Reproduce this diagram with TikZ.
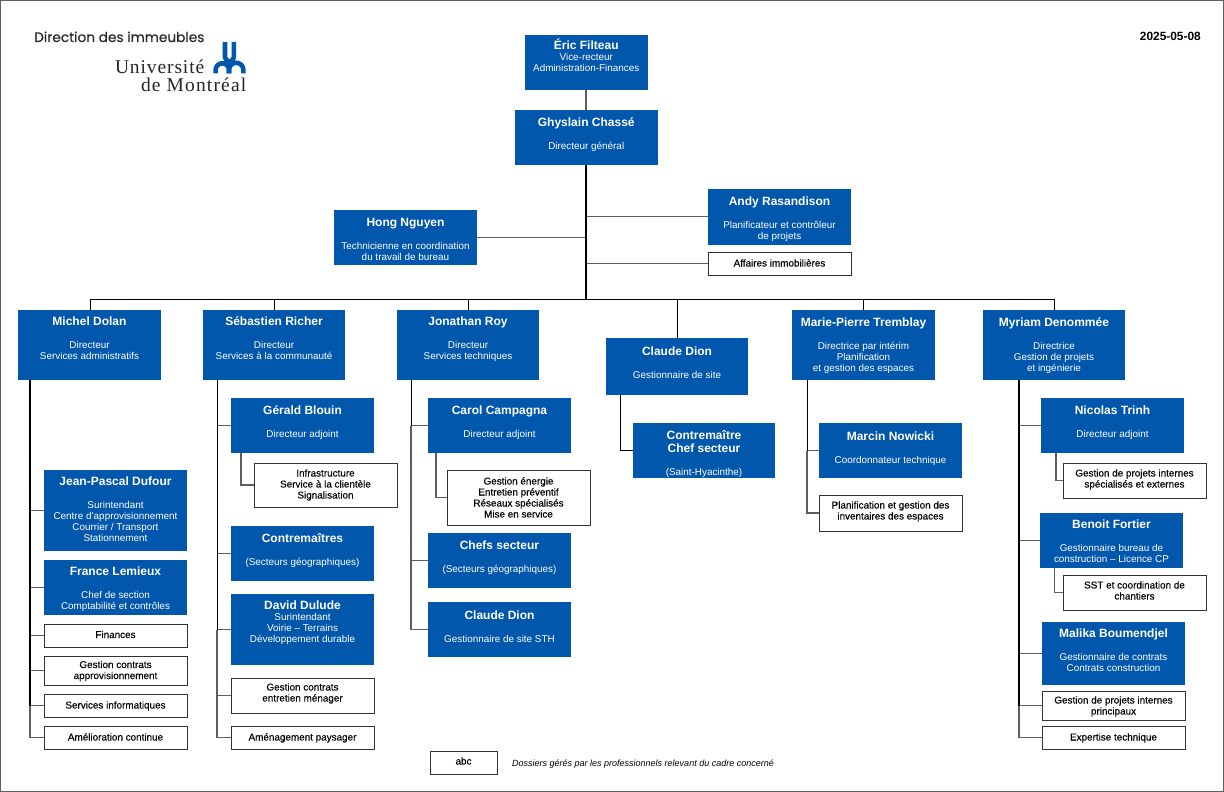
\documentclass[tikz,border=0pt]{standalone}
\usepackage{fontspec}
\setmainfont{Liberation Sans}
\newfontfamily\fb[FakeBold=0.3]{Liberation Sans}
\newfontfamily\pop[FakeBold=0.25]{Poppins}
\newfontfamily\lsera[LetterSpace=4.6]{Liberation Serif}
\newfontfamily\lserb[LetterSpace=6]{Liberation Serif}
\definecolor{umblue}{HTML}{0057AB}
\definecolor{linegray}{HTML}{5E5E5E}
\newcommand\nm[1]{{\fontsize{12}{11}\selectfont\bfseries #1}}
% \bx{name}{x0}{y0}{x1}{y1}{style}{first baseline}{text}
\newcommand\bx[8]{%
  \pgfmathsetmacro\bw{#4-#2}\pgfmathsetmacro\bh{#5-#3}\pgfmathsetmacro\bo{#7-#3}%
  \node[#6,minimum width=\bw pt,minimum height=\bh pt] (#1) at ({(#2+#4)/2},{(#3+#5)/2})
    {\parbox[c][\bh pt][t]{\bw pt}{\centering\rule{0pt}{\bo pt}#8}};}
\tikzset{
  bluebox/.style={fill=umblue,text=white,inner sep=0pt,outer sep=0pt,font=\fontsize{9.9}{11}\selectfont},
  whitebox/.style={draw=black!80,line width=.9pt,fill=white,text=black,inner sep=0pt,outer sep=0pt,font=\fontsize{9.9}{11}\selectfont\fb},
  thin link/.style={draw=linegray,line width=1.1pt},
  bus link/.style={draw=black,line width=1pt},
  trunk link/.style={draw=black,line width=1.8pt},
  logo stroke/.style={draw=umblue,line width=4.6pt},
}
\begin{document}
\begin{tikzpicture}[x=1pt,y=-1pt]
\useasboundingbox (0,0) rectangle (1224,792);
\draw[draw=linegray,line width=1.4pt] (.7,.7) rectangle (1223.3,791.3);

% header
\node[inner sep=0pt,anchor=base west,font=\fontsize{13.7}{14}\selectfont\pop,text=black!85] (title) at (34,42) {Direction des immeubles};
\node[inner sep=0pt,anchor=base east,font=\fontsize{19.5}{20}\selectfont\lsera,text=black!85] (um1) at (204.5,74) {Université};
\node[inner sep=0pt,anchor=base east,font=\fontsize{19.5}{20}\selectfont\lserb,text=black!85] (um2) at (246.5,92) {de Montréal};
\node[inner sep=0pt,anchor=base east,font=\fontsize{11.9}{12}\selectfont\bfseries] (date) at (1201,41) {2025-05-08};
\draw[logo stroke] (225,42) -- (225,57) arc[start angle=180,end angle=0,radius=4.45] -- (233.9,42);
\draw[logo stroke] (215.6,73.5) -- (215.6,70) arc[start angle=180,end angle=360,radius=6.7] -- (229,73.5);
\draw[logo stroke] (229,73.5) -- (229,70) arc[start angle=180,end angle=360,radius=7.2] -- (243.4,73.5);

% top
\bx{eric}{524.5}{35}{648}{90}{bluebox}{50}{\nm{Éric Filteau}\\[-1pt]Vice-recteur\\Administration-Finances}
\bx{ghys}{515}{110}{657.5}{165}{bluebox}{126}{\nm{Ghyslain Chassé}\\[12pt]Directeur général}
\bx{andy}{708}{189}{851}{244.5}{bluebox}{205}{\nm{Andy Rasandison}\\[12pt]Planificateur et contrôleur\\de projets}
\bx{hong}{334}{210}{477}{265}{bluebox}{226}{\nm{Hong Nguyen}\\[12pt]Technicienne en coordination\\du travail de bureau}
\bx{aff}{708}{252}{851}{275}{whitebox}{266.5}{Affaires immobilières}

% row heads
\bx{michel}{18}{310}{161}{380}{bluebox}{325}{\nm{Michel Dolan}\\[12pt]Directeur\\Services administratifs}
\bx{seb}{203}{310}{345}{380}{bluebox}{325}{\nm{Sébastien Richer}\\[12pt]Directeur\\Services à la communauté}
\bx{jon}{397}{310}{539}{380}{bluebox}{325}{\nm{Jonathan Roy}\\[12pt]Directeur\\Services techniques}
\bx{dion}{606}{338}{748}{395}{bluebox}{355}{\nm{Claude Dion}\\[12pt]Gestionnaire de site}
\bx{marie}{792}{310}{935}{380}{bluebox}{326}{\nm{Marie-Pierre Tremblay}\\[12pt]Directrice par intérim\\Planification\\et gestion des espaces}
\bx{myr}{983}{310}{1125}{380}{bluebox}{326}{\nm{Myriam Denommée}\\[12pt]Directrice\\Gestion de projets\\et ingénierie}

% column 1
\bx{jp}{44}{470}{187}{551}{bluebox}{485}{\nm{Jean-Pascal Dufour}\\[12pt]Surintendant\\Centre d’approvisionnement\\Courrier / Transport\\Stationnement}
\bx{fr}{44}{560}{187}{615}{bluebox}{575}{\nm{France Lemieux}\\[12pt]Chef de section\\Comptabilité et contrôles}
\bx{fin}{44}{624}{187}{647}{whitebox}{638}{Finances}
\bx{gca}{44}{656}{187}{685}{whitebox}{668}{Gestion contrats\\approvisionnement}
\bx{si}{44}{694}{187}{717}{whitebox}{708.5}{Services informatiques}
\bx{ac}{44}{726}{187}{749}{whitebox}{740.5}{Amélioration continue}

% column 2
\bx{ger}{231}{398}{374}{453}{bluebox}{414}{\nm{Gérald Blouin}\\[12pt]Directeur adjoint}
\bx{inf}{254}{463}{397}{507}{whitebox}{476.5}{Infrastructure\\Service à la clientèle\\Signalisation}
\bx{con}{231}{526}{374}{581}{bluebox}{542}{\nm{Contremaîtres}\\[12pt](Secteurs géographiques)}
\bx{dav}{231}{594}{374}{665}{bluebox}{609}{\nm{David Dulude}\\Surintendant\\Voirie – Terrains\\Développement durable}
\bx{gce}{231}{678}{374}{713}{whitebox}{690.5}{Gestion contrats\\entretien ménager}
\bx{ame}{231}{726}{374}{749}{whitebox}{740.5}{Aménagement paysager}

% column 3
\bx{car}{428}{398}{571}{453}{bluebox}{414}{\nm{Carol Campagna}\\[12pt]Directeur adjoint}
\bx{ene}{447}{470}{590}{525}{whitebox}{484.5}{Gestion énergie\\Entretien préventif\\Réseaux spécialisés\\Mise en service}
\bx{che}{428}{533}{571}{588}{bluebox}{549}{\nm{Chefs secteur}\\[12pt](Secteurs géographiques)}
\bx{sth}{428}{602}{571}{657}{bluebox}{619}{\nm{Claude Dion}\\[12pt]Gestionnaire de site STH}

% column 4
\bx{csh}{633}{423}{775}{478}{bluebox}{439}{\nm{Contremaître}\\[2.5pt]\nm{Chef secteur}\\[12pt](Saint-Hyacinthe)}

% column 5
\bx{mar}{819}{423}{962}{478}{bluebox}{440}{\nm{Marcin Nowicki}\\[12pt]Coordonnateur technique}
\bx{pla}{819}{495}{962}{531}{whitebox}{508.5}{Planification et gestion des\\inventaires des espaces}

% column 6
\bx{nic}{1041}{398}{1184}{453}{bluebox}{414}{\nm{Nicolas Trinh}\\[12pt]Directeur adjoint}
\bx{gpi}{1063}{463}{1206}{498}{whitebox}{476.5}{Gestion de projets internes\\spécialisés et externes}
\bx{ben}{1040}{513}{1183}{568}{bluebox}{528}{\nm{Benoit Fortier}\\[12pt]Gestionnaire bureau de\\construction – Licence CP}
\bx{sst}{1063}{575}{1206}{610}{whitebox}{588.5}{SST et coordination de\\chantiers}
\bx{mal}{1042}{622}{1185}{685}{bluebox}{637}{\nm{Malika Boumendjel}\\[12pt]Gestionnaire de contrats\\Contrats construction}
\bx{gpp}{1042}{691}{1185}{720}{whitebox}{703.5}{Gestion de projets internes\\principaux}
\bx{exp}{1042}{726}{1185}{749}{whitebox}{740.5}{Expertise technique}

% legend
\bx{abc}{430}{751}{497}{774}{whitebox}{764.5}{abc}
\node[inner sep=0pt,anchor=base west,font=\fontsize{9}{10}\selectfont\itshape] (leg) at (512,766) {Dossiers gérés par les professionnels relevant du cadre concerné};

% coordinates of trunks
\coordinate (tc) at (586,165);
\coordinate (busy) at (586,299);
\coordinate (t1) at (30,380);
\coordinate (t2) at (217,380);
\coordinate (t3) at (411,380);
\coordinate (t4) at (620,395);
\coordinate (t5) at (807,380);
\coordinate (t6) at (1019,380);
\coordinate (s2) at (241,453);
\coordinate (s3) at (436,453);
\coordinate (s6a) at (1056,453);
\coordinate (s6b) at (1054.5,568);
\coordinate (d1) at (90,310);
\coordinate (d2) at (274,310);
\coordinate (d3) at (468,310);
\coordinate (d4) at (677,338);
\coordinate (d5) at (863,310);
\coordinate (d6) at (1054,310);

\draw[thin link] (eric.south -| tc) -- (ghys.north -| tc);
\draw[thin link] (tc |- andy.west) -- (andy.west);
\draw[thin link] (tc |- hong.east) -- (hong.east);
\draw[thin link] (tc |- aff.west) -- (aff.west);
\draw[trunk link] (tc) -- (busy);
\draw[bus link] (d1 |- busy) -- (d6 |- busy);
\draw[bus link] (d1 |- busy) -- (d1);
\draw[bus link] (d2 |- busy) -- (d2);
\draw[bus link] (d3 |- busy) -- (d3);
\draw[bus link] (d4 |- busy) -- (d4);
\draw[bus link] (d5 |- busy) -- (d5);
\draw[bus link] (d6 |- busy) -- (d6);
% col 1
\foreach \n in {jp,fr,fin,gca,si}{\draw[thin link] (t1 |- \n.west) -- (\n.west);}
\draw[thin link] (t1 |- si.west) |- (ac.west);
\draw[trunk link] (t1) -- (t1 |- si.west);
% col 2
\foreach \n in {ger,con,dav,gce}{\draw[thin link] (t2 |- \n.west) -- (\n.west);}
\draw[thin link] (t2 |- dav.west) |- (ame.west);
\draw[bus link] (t2) -- (t2 |- dav.west);
\draw[thin link] (s2) |- (inf.west);
% col 3
\foreach \n in {car,che}{\draw[thin link] (t3 |- \n.west) -- (\n.west);}
\draw[thin link] (t3 |- car.west) |- (sth.west);
\draw[bus link] (t3) -- (t3 |- car.west);
\draw[thin link] (s3) |- (ene.west);
% col 4
\draw[bus link] (t4) |- (csh.west);
% col 5
\draw[thin link] (t5 |- mar.west) -- (mar.west);
\draw[thin link] (t5 |- mar.west) |- (pla.west);
\draw[bus link] (t5) -- (t5 |- mar.west);
% col 6
\foreach \n in {nic,ben,mal,gpp}{\draw[thin link] (t6 |- \n.west) -- (\n.west);}
\draw[thin link] (t6 |- gpp.west) |- (exp.west);
\draw[trunk link] (t6) -- (t6 |- gpp.west);
\draw[thin link] (s6a) |- (gpi.west);
\draw[thin link] (s6b) |- (sst.west);
\end{tikzpicture}
\end{document}
